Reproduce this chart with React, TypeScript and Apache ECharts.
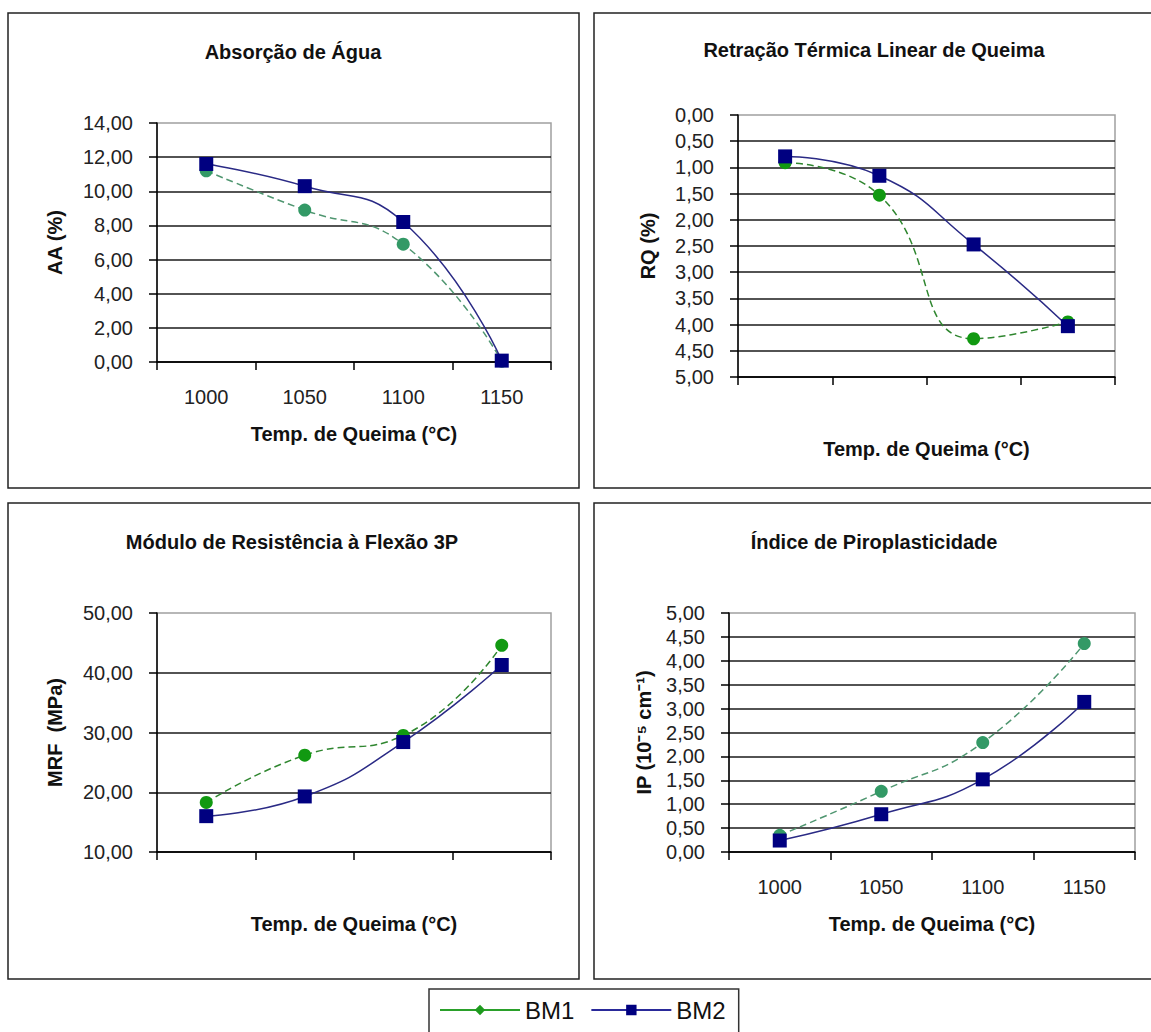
import React, { useEffect, useRef } from "react";
import * as echarts from "echarts";

const categories = ["1000", "1050", "1100", "1150"];

const aaBM1 = [11.2, 8.9, 6.9, 0.05];
const aaBM2 = [11.6, 10.3, 8.2, 0.08];
const rqBM1 = [0.91, 1.53, 4.27, 3.95];
const rqBM2 = [0.79, 1.16, 2.47, 4.03];
const mrfBM1 = [18.3, 26.2, 29.5, 44.6];
const mrfBM2 = [16.0, 19.3, 28.4, 41.3];
const ipBM1 = [0.35, 1.27, 2.29, 4.36];
const ipBM2 = [0.24, 0.79, 1.52, 3.14];

const titles = [
  "Absorção de Água",
  "Retração Térmica Linear de Queima",
  "Módulo de Resistência à Flexão 3P",
  "Índice de Piroplasticidade",
];
const yNames = ["AA (%)", "RQ (%)", "MRF  (MPa)", "IP (10⁻⁵ cm⁻¹)"];
const xName = "Temp. de Queima (°C)";
const seriesNames = ["BM1", "BM2"];

const FONT = "'Liberation Sans', Arial, sans-serif";
const fmt = (v: number) => v.toFixed(2).replace(".", ",");

export default function App() {
  const ref = useRef<HTMLDivElement>(null);
  useEffect(() => {
    if (!ref.current) return;
    const chart = echarts.init(ref.current, undefined, { renderer: "svg" });

    const grids = [
      { left: 157, top: 123, width: 394, height: 239 },
      { left: 738, top: 115, width: 377, height: 262 },
      { left: 157, top: 613, width: 394, height: 239 },
      { left: 729, top: 613, width: 406, height: 239 },
    ];
    const yCfg = [
      { min: 0, max: 14, interval: 2, inverse: false, gap: 92 },
      { min: 0, max: 5, interval: 0.5, inverse: true, gap: 80 },
      { min: 10, max: 50, interval: 10, inverse: false, gap: 92 },
      { min: 0, max: 5, interval: 0.5, inverse: false, gap: 75 },
    ];
    const showXLabels = [true, false, false, true];
    const titlePos = [
      { x: 293, y: 42 },
      { x: 874, y: 40 },
      { x: 292, y: 532 },
      { x: 874, y: 532 },
    ];
    const data1 = [aaBM1, rqBM1, mrfBM1, ipBM1];
    const data2 = [aaBM2, rqBM2, mrfBM2, ipBM2];
    const greenMarker = ["#339966", "#119911", "#119911", "#339966"];
    const greenLine = ["#4f9670", "#2f862f", "#2f862f", "#4f9670"];

    const series: any[] = [];
    for (let i = 0; i < 4; i++) {
      series.push({
        name: seriesNames[0],
        type: "line",
        xAxisIndex: i,
        yAxisIndex: i,
        smooth: 0.5,
        symbol: "diamond",
        symbolSize: 13,
        data: data1[i].map((v) => ({ value: v, symbol: "circle" })),
        itemStyle: { color: greenMarker[i] },
        lineStyle: { color: greenLine[i], width: 1.5, type: [7, 4] },
        z: 2,
      });
    }
    for (let i = 0; i < 4; i++) {
      series.push({
        name: seriesNames[1],
        type: "line",
        xAxisIndex: i,
        yAxisIndex: i,
        smooth: 0.5,
        symbol: "rect",
        symbolSize: 14,
        data: data2[i],
        itemStyle: { color: "#000080" },
        lineStyle: { color: "#2a2a85", width: 1.5 },
        z: 3,
      });
    }

    const option: any = {
      animation: false,
      backgroundColor: "#ffffff",
      title: titles.map((t, i) => ({
        text: t,
        left: titlePos[i].x,
        top: titlePos[i].y,
        textAlign: "center",
        padding: 0,
        textStyle: { fontFamily: FONT, fontSize: 20, fontWeight: "bold", color: "#111" },
      })),
      grid: grids.map((g) => ({
        ...g,
        show: true,
        borderColor: "#a0a0a0",
        borderWidth: 1.5,
        backgroundColor: "transparent",
        containLabel: false,
      })),
      xAxis: grids.map((_, i) => ({
        type: "category",
        gridIndex: i,
        data: categories,
        boundaryGap: true,
        name: xName,
        nameLocation: "middle",
        nameGap: 62,
        nameTextStyle: { fontFamily: FONT, fontSize: 20, fontWeight: "bold", color: "#111" },
        axisLine: { onZero: false, lineStyle: { color: "#000", width: 1.5 } },
        axisTick: { show: true, length: 8, lineStyle: { color: "#000", width: 1.5 } },
        axisLabel: {
          show: showXLabels[i],
          margin: 25,
          fontFamily: FONT,
          fontSize: 20,
          color: "#222",
        },
        splitLine: { show: false },
      })),
      yAxis: grids.map((_, i) => ({
        type: "value",
        gridIndex: i,
        min: yCfg[i].min,
        max: yCfg[i].max,
        interval: yCfg[i].interval,
        inverse: yCfg[i].inverse,
        name: yNames[i],
        nameLocation: "middle",
        nameGap: yCfg[i].gap,
        nameTextStyle: { fontFamily: FONT, fontSize: 20, fontWeight: "bold", color: "#111" },
        axisLine: { show: true, onZero: false, lineStyle: { color: "#000", width: 1.5 } },
        axisTick: { show: true, length: 8, lineStyle: { color: "#000", width: 1.5 } },
        axisLabel: {
          margin: 24,
          fontFamily: FONT,
          fontSize: 20,
          color: "#222",
          formatter: (v: number) => fmt(v),
        },
        splitLine: {
          show: true,
          showMinLine: yCfg[i].inverse ? false : true,
          showMaxLine: yCfg[i].inverse ? true : false,
          lineStyle: { color: "#1a1a1a", width: 1.5 },
        },
      })),
      legend: {
        data: [
          {
            name: "BM1",
            itemStyle: { color: "#1e9a1e" },
            lineStyle: { color: "#2aa02a", type: "solid", width: 2 },
          },
          {
            name: "BM2",
            itemStyle: { color: "#000080" },
            lineStyle: { color: "#2a2a9a", type: "solid", width: 2 },
          },
        ],
        left: 429,
        top: 989,
        orient: "horizontal",
        itemWidth: 80,
        itemHeight: 13,
        itemGap: 16,
        padding: [9, 13, 30, 10],
        borderColor: "#333",
        borderWidth: 1.5,
        selectedMode: false,
        textStyle: { fontFamily: FONT, fontSize: 24, color: "#111" },
      },
      graphic: [
        { type: "rect", shape: { x: 8, y: 13, width: 571, height: 475 }, style: { fill: "none", stroke: "#222", lineWidth: 1.5 }, z: 0 },
        { type: "rect", shape: { x: 594, y: 13, width: 600, height: 475 }, style: { fill: "none", stroke: "#222", lineWidth: 1.5 }, z: 0 },
        { type: "rect", shape: { x: 8, y: 503, width: 571, height: 476 }, style: { fill: "none", stroke: "#222", lineWidth: 1.5 }, z: 0 },
        { type: "rect", shape: { x: 594, y: 503, width: 600, height: 476 }, style: { fill: "none", stroke: "#222", lineWidth: 1.5 }, z: 0 },
      ],
      series,
    };
    chart.setOption(option);
    return () => chart.dispose();
  }, []);

  return (
    <div
      ref={ref}
      style={{ position: "absolute", left: 0, top: 0, width: 1151, height: 1032, background: "#fff" }}
    />
  );
}
